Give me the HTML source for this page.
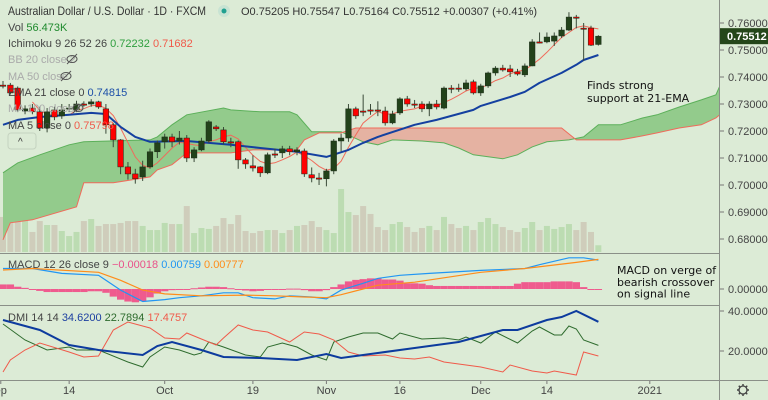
<!DOCTYPE html>
<html><head><meta charset="utf-8"><style>
html,body{margin:0;padding:0;background:#dcebd6;}
svg{display:block;font-family:"Liberation Sans",sans-serif;}
</style></head><body>
<svg id="c" width="768" height="400" viewBox="0 0 768 400">
<defs>
<clipPath id="mainClip"><rect x="0" y="0" width="719" height="252"/></clipPath>
<clipPath id="macdClip"><rect x="0" y="254" width="719" height="51"/></clipPath>
<clipPath id="dmiClip"><rect x="0" y="307" width="719" height="72"/></clipPath>
</defs>
<rect x="0" y="0" width="768" height="400" fill="#dcebd6"/>
<g id="vol" clip-path="url(#mainClip)"></g>
<g id="cloud" clip-path="url(#mainClip)"></g>
<g id="lines" clip-path="url(#mainClip)"></g>
<g id="candles" clip-path="url(#mainClip)"></g>
<g id="macd" clip-path="url(#macdClip)"></g>
<g id="dmi" clip-path="url(#dmiClip)"></g>
<g id="axes"></g>

<line x1="0" y1="253.5" x2="719" y2="253.5" stroke="#8a8f88" stroke-width="1"/>
<line x1="0" y1="305.5" x2="719" y2="305.5" stroke="#8a8f88" stroke-width="1"/>
<line x1="0" y1="380.5" x2="768" y2="380.5" stroke="#8a8f88" stroke-width="1"/>
<line x1="719.5" y1="0" x2="719.5" y2="400" stroke="#8a8f88" stroke-width="1"/>

<g fill="#333">
<text x="8" y="15" font-size="12" textLength="198" lengthAdjust="spacingAndGlyphs">Australian Dollar / U.S. Dollar · 1D · FXCM</text>
<circle cx="224" cy="11" r="6" fill="#c8e3d3"/>
<circle cx="224" cy="11" r="2.5" fill="#20a090"/>
<text x="241" y="15" font-size="11" fill="#333">O0.75205 H0.75547 L0.75164 C0.75512 +0.00307 (+0.41%)</text>
</g>
<g font-size="11">
<text x="8" y="31" fill="#444">Vol <tspan fill="#1f8a2e">56.473K</tspan></text>
<text x="8" y="47" fill="#444">Ichimoku 9 26 52 26 <tspan fill="#2e9e3e">0.72232</tspan> <tspan fill="#f05a4a">0.71682</tspan></text>
<text x="8" y="63" fill="#aaa">BB 20 close 2</text>
<g><ellipse cx="72" cy="59" rx="5" ry="3.5" fill="none" stroke="#555"/><line x1="67" y1="64" x2="77" y2="54" stroke="#555"/></g>
<text x="8" y="80" fill="#aaa">MA 50 close</text>
<g><ellipse cx="66" cy="76" rx="5" ry="3.5" fill="none" stroke="#555"/><line x1="61" y1="81" x2="71" y2="71" stroke="#555"/></g>
<text x="8" y="96" fill="#444">EMA 21 close 0 <tspan fill="#1c4fa8">0.74815</tspan></text>
<text x="8" y="112" fill="#aaa">MA 100 close 0</text>
<g><ellipse cx="78" cy="108" rx="5" ry="3.5" fill="none" stroke="#555"/><line x1="73" y1="113" x2="83" y2="103" stroke="#555"/></g>
<text x="8" y="129" fill="#444">MA 5 close 0 <tspan fill="#f05a4a">0.75798</tspan></text>
<rect x="8" y="133" width="28" height="16" rx="3" fill="#dcebd6" stroke="#c5d3c0"/>
<text x="18" y="145" fill="#333" font-size="10">^</text>
<text x="8" y="268" fill="#444">MACD 12 26 close 9 <tspan fill="#e9518a">−0.00018</tspan> <tspan fill="#2196f3">0.00759</tspan> <tspan fill="#ff8c1a">0.00777</tspan></text>
<text x="8" y="321" fill="#444">DMI 14 14 <tspan fill="#1c3fa0">34.6200</tspan> <tspan fill="#2e6b2e">22.7894</tspan> <tspan fill="#f05a4a">17.4757</tspan></text>
</g>
<g font-size="11" fill="#111" font-family="DejaVu Sans, sans-serif">
<text x="587" y="89"><tspan x="587">Finds strong</tspan><tspan x="587" dy="13">support at 21-EMA</tspan></text>
<text x="617" y="274"><tspan x="617">MACD on verge of</tspan><tspan x="617" dy="12">bearish crossover</tspan><tspan x="617" dy="11.5">on signal line</tspan></text>
</g>
</svg>
<script>
// ---- Data ----
const opens  = [.7370,.7370,.7359,.7274,.7285,.7271,.7211,.7278,.7256,.7282,.7278,.7300,.7300,.7308,.7282,.7223,.7167,.7067,.7041,.7030,.7067,.7123,.7160,.7178,.7163,.7174,.7100,.7130,.7163,.7215,.7204,.7160,.7160,.7093,.7071,.7067,.7045,.7115,.7119,.7134,.7123,.7126,.7038,.7026,.7023,.7052,.7163,.7174,.7282,.7274,.7278,.7278,.7274,.7230,.7267,.7319,.7300,.7300,.7282,.7300,.7285,.7359,.7359,.7356,.7382,.7341,.7367,.7415,.7433,.7430,.7419,.7408,.7441,.7530,.7530,.7533,.7552,.7574,.7622,.7581,.7581,.75205];
const closes = [.7367,.7341,.7278,.7282,.7271,.7211,.7271,.7252,.7278,.7285,.7300,.7298,.7308,.7289,.7223,.7167,.7067,.7041,.7023,.7067,.7123,.7156,.7178,.7160,.7174,.7100,.7130,.7163,.7234,.7208,.7160,.7158,.7093,.7078,.7063,.7045,.7112,.7113,.7134,.7123,.7130,.7041,.7026,.7025,.7052,.7163,.7174,.7282,.7256,.7272,.7276,.7276,.7230,.7263,.7319,.7300,.7298,.7282,.7300,.7289,.7359,.7357,.7357,.7378,.7341,.7367,.7415,.7433,.7426,.7419,.7411,.7441,.7530,.7528,.7548,.7552,.7574,.7622,.7620,.7579,.7518,.75512];
const highs  = [.7385,.7378,.7365,.7295,.7300,.7290,.7285,.7290,.7300,.7300,.7312,.7310,.7318,.7312,.7300,.7230,.7170,.7085,.7060,.7090,.7135,.7165,.7190,.7190,.7200,.7185,.7140,.7175,.7240,.7222,.7215,.7175,.7165,.7100,.7110,.7070,.7120,.7135,.7145,.7145,.7140,.7135,.7065,.7045,.7060,.7170,.7190,.7300,.7290,.7335,.7300,.7310,.7290,.7275,.7325,.7330,.7315,.7310,.7310,.7315,.7365,.7370,.7375,.7390,.7390,.7375,.7420,.7440,.7445,.7445,.7430,.7450,.7540,.7565,.7565,.7565,.7585,.7640,.7630,.7600,.7590,.75547];
const lows   = [.7358,.7335,.7270,.7262,.7262,.7200,.7195,.7240,.7245,.7270,.7270,.7290,.7290,.7282,.7190,.7140,.7040,.7020,.7005,.7015,.7060,.7100,.7135,.7140,.7150,.7085,.7085,.7125,.7155,.7200,.7150,.7140,.7060,.7060,.7050,.7030,.7040,.7100,.7100,.7110,.7110,.7030,.7010,.7000,.6995,.7040,.7125,.7160,.7245,.7255,.7260,.7255,.7220,.7225,.7260,.7290,.7285,.7270,.7255,.7280,.7280,.7340,.7345,.7350,.7335,.7330,.7360,.7405,.7420,.7400,.7405,.7400,.7440,.7525,.7525,.7515,.7545,.7570,.7580,.7460,.7515,.75164];
const volumes = [292,242,292,292,167,258,225,225,175,133,167,258,275,217,233,233,242,258,258,217,183,183,242,233,233,383,158,200,192,217,283,233,308,175,158,175,183,183,158,183,217,225,258,208,183,158,525,333,308,383,317,208,183,233,250,208,167,200,217,183,292,233,200,217,183,250,283,233,208,183,167,200,250,183,217,192,208,233,183,250,167,56];
const spanAIdx = [0,2,5,9,11,20,21,23,25,30,31,35,39,40,42,46,49,51,53,57,60,62,64,68,70,72,74,77,79,81,84,87,89,92,95,97,98];
const spanAVal = [.7045,.7082,.7112,.7149,.7160,.7167,.7178,.7223,.7260,.7285,.7278,.7271,.7271,.7260,.7197,.7197,.7160,.7149,.7167,.7163,.7156,.7137,.7112,.7097,.7112,.7141,.7160,.7167,.7178,.7223,.7223,.7248,.7260,.7289,.7315,.7334,.7396];
const spanBIdx = [0,1,4,10,11,15,20,21,23,25,31,34,40,41,43,46,48,76,78,84,87,89,92,95,97,98];
const spanBVal = [.6797,.6860,.6871,.6919,.7008,.7008,.7030,.7056,.7075,.7119,.7119,.7130,.7130,.7167,.7193,.7193,.7211,.7211,.7167,.7167,.7182,.7193,.7211,.7223,.7248,.7271];
const emaIdx = [0,2,5,9,12,14,16,18,20,25,31,35,40,44,47,49,51,56,59,64,65,69,71,73,76,78,79,81];
const emaVal = [.7223,.7241,.7252,.7260,.7267,.7263,.7215,.7178,.7160,.7163,.7149,.7137,.7123,.7104,.7130,.7156,.7178,.7223,.7241,.7278,.7293,.7326,.7345,.7378,.7415,.7445,.7463,.74815];
const macdIdx = [0,4,8,13,14,16,18,19,22,24,27,30,32,34,37,39,42,44,46,49,51,54,58,65,71,73,77,79,81];
const macdVal = [.0054,.0054,.0041,.0036,.0023,-.0003,-.0023,-.0033,-.0028,-.0023,-.0018,-.0010,-.0010,-.0023,-.0026,-.0018,-.0021,-.0026,-.0003,.0015,.0028,.0036,.0041,.0049,.0054,.0064,.0082,.0082,.0076];
const signalIdx = [0,4,13,16,19,22,27,33,37,41,44,46,49,51,56,65,71,78,81];
const signalVal = [.0050,.0054,.0044,.0023,-.0003,-.0013,-.0018,-.0016,-.0018,-.0021,-.0023,-.0015,.0000,.0010,.0018,.0044,.0054,.0070,.0078];
const histVal = [12,12,6,3,-2,-5,-8,-8,-8,-8,-8,-8,-6,-6,-10,-20,-28,-33,-35,-32,-22,-12,-6,-3,-1,0,2,4,6,6,5,2,-1,-4,-6,-5,-2,-1,0,1,1,-3,-6,-6,-3,5,12,20,24,26,28,28,25,25,22,15,15,14,10,8,8,8,8,8,8,8,8,8,8,8,14,18,18,18,18,20,20,20,18,5,-1,-2];
const adxIdx = [0,5,9,13,19,21,23,27,30,35,40,44,46,51,56,62,64,68,70,74,76,78,81];
const adxVal = [35.5,30.5,23,20.5,18,22.5,24.5,20.5,17,16.5,15.5,18.5,16.5,19,21.5,24.5,26.5,30.5,30.5,35.5,37,40,34.6];
const pdiIdx = [0,3,6,9,10,13,17,19,20,22,24,26,27,28,30,33,35,36,38,40,42,44,45,47,49,51,53,54,57,60,62,63,65,67,70,72,73,75,76,77,78,79,81];
const pdiVal = [33.5,25.5,20.5,22,20.5,20.5,14.5,12,17,22,20.5,18,19,24.5,22,18,17,22,24,22,18,15.5,24.5,27,29,29,26,29,26,26.5,25.5,27,24,29.5,24,30,32,28,28,32.5,31,25.5,22.8];
const mdiIdx = [0,1,3,5,9,11,13,15,17,20,22,24,25,27,29,30,32,34,36,39,41,43,45,47,49,52,54,56,58,60,65,68,69,72,74,75,78,79,81];
const mdiVal = [9.5,15.5,20.5,24,19.5,17,17.5,30.5,34.5,31.5,26.5,26,29,26,23,26.5,33,30.5,29.5,24.5,29.5,28.5,25.5,19.5,17.5,18,16.5,16,17,14.5,12,9.5,13,10,9,10,8,19.5,17.5];
const priceTicks = ["0.76000","0.75000","0.74000","0.73000","0.72000","0.71000","0.70000","0.69000","0.68000"];
const priceTickVals = [.76,.75,.74,.73,.72,.71,.70,.69,.68];
const timeLabels = ["ep","14","Oct","19","Nov","16","Dec","14","2021"];
const timeLabelIdx = [-0.3,9,22,34,44,54,65,74,88];
const dmiTicks = ["40.0000","20.0000"];
const dmiTickVals = [40,20];

// ---- Scales ----
const X = i => 3 + 7.35 * i;
const Y = p => 23 + (0.76 - p) * 2700;
const MY = v => 289 - v * 3800;
const DY = v => 391 - 2 * v;
const VH = v => v * 0.12;
const NS = "http://www.w3.org/2000/svg";
function el(tag, attrs, parent) {
  const e = document.createElementNS(NS, tag);
  for (const k in attrs) e.setAttribute(k, attrs[k]);
  parent.appendChild(e);
  return e;
}
function pathFrom(idx, vals, sx, sy) {
  return idx.map((d, k) => (k ? "L" : "M") + sx(d).toFixed(1) + " " + sy(vals[k]).toFixed(1)).join(" ");
}
const g = id => document.getElementById(id);

// volume
volumes.forEach((v, i) => {
  const up = closes[i] >= opens[i];
  const r = el("rect", {x: X(i) - 3, y: 252 - VH(v), width: 6, height: VH(v), fill: up ? "#bcdcb2" : "#cfcdbb"}, g("vol"));
  
  
});

// cloud
const aPath = pathFrom(spanAIdx, spanAVal, X, Y);
const bPath = pathFrom(spanBIdx, spanBVal, X, Y);
const defs = document.querySelector("defs");
const xa0 = X(spanAIdx[0]), xa1 = X(spanAIdx[spanAIdx.length-1]);
const xb0 = X(spanBIdx[0]), xb1 = X(spanBIdx[spanBIdx.length-1]);
const belowA = el("clipPath", {id: "belowA"}, defs);
el("path", {d: aPath + ` L${xa1} 400 L${xa0} 400 Z`}, belowA);
const belowB = el("clipPath", {id: "belowB"}, defs);
el("path", {d: bPath + ` L${xb1} 400 L${xb0} 400 Z`}, belowB);
const gr = el("g", {"clip-path": "url(#belowA)"}, g("cloud"));
const gf = el("path", {d: bPath + ` L${xb1} -10 L${xb0} -10 Z`, fill: "#93cb8c"}, gr);


const rd = el("g", {"clip-path": "url(#belowB)"}, g("cloud"));
const rf = el("path", {d: aPath + ` L${xa1} -10 L${xa0} -10 Z`, fill: "#e5b2a2"}, rd);


const la = el("path", {d: aPath, fill: "none", stroke: "#5cb05a", "stroke-width": 1}, g("cloud"));


const lb = el("path", {d: bPath, fill: "none", stroke: "#f06b5b", "stroke-width": 1}, g("cloud"));



// MA5
const ma5Idx = [], ma5Val = [];
for (let i = 4; i < closes.length; i++) {
  let s = 0; for (let k = i - 4; k <= i; k++) s += closes[k];
  ma5Idx.push(i); ma5Val.push(s / 5);
}
const m5 = el("path", {d: pathFrom(ma5Idx, ma5Val, X, Y), fill: "none", stroke: "#f06b5b", "stroke-width": 1}, g("lines"));


const em = el("path", {d: pathFrom(emaIdx, emaVal, X, Y), fill: "none", stroke: "#1440a0", "stroke-width": 2, "stroke-linejoin": "round"}, g("lines"));



// candles
opens.forEach((o, i) => {
  const c = closes[i], up = c >= o;
  const col = up ? "#22421a" : "#ff0000";
  const w = el("line", {x1: X(i), x2: X(i), y1: Y(highs[i]), y2: Y(lows[i]), stroke: "#3a4a38", "stroke-width": 1}, g("candles"));
  
  
  const top = Y(Math.max(o, c)), h = Math.max(1.2, Math.abs(Y(o) - Y(c)));
  const b = el("rect", {x: X(i) - 2.8, y: top, width: 5.6, height: h, fill: col, stroke: "#1a2a16", "stroke-width": 0.5}, g("candles"));
  
  
});

// MACD
histVal.forEach((v, i) => {
  const val = v / 10000;
  const y0 = MY(0), y1 = MY(val);
  const r = el("rect", {x: X(i) - 3.6, y: Math.min(y0, y1), width: 7.3, height: Math.max(1, Math.abs(y1 - y0)), fill: "#ef5b8e"}, g("macd"));
  
  
});
const ml = el("path", {d: pathFrom(macdIdx, macdVal, X, MY), fill: "none", stroke: "#2196f3", "stroke-width": 1.2}, g("macd"));


const sl = el("path", {d: pathFrom(signalIdx, signalVal, X, MY), fill: "none", stroke: "#ff8c1a", "stroke-width": 1.2}, g("macd"));



// DMI
const pl = el("path", {d: pathFrom(pdiIdx, pdiVal, X, DY), fill: "none", stroke: "#2e6b2e", "stroke-width": 1}, g("dmi"));


const nl = el("path", {d: pathFrom(mdiIdx, mdiVal, X, DY), fill: "none", stroke: "#f05a4a", "stroke-width": 1}, g("dmi"));


const al = el("path", {d: pathFrom(adxIdx, adxVal, X, DY), fill: "none", stroke: "#0d3b9e", "stroke-width": 2}, g("dmi"));



// axes
const ax = g("axes");
priceTicks.forEach((t, k) => {
  const y = Y(priceTickVals[k]);
  el("line", {x1: 720, x2: 724, y1: y, y2: y, stroke: "#777"}, ax);
  const tx = el("text", {x: 728, y: y + 4, "font-size": 11, fill: "#444"}, ax);
  tx.textContent = t;
  
  
});
const last = closes[closes.length - 1];
const lb2 = el("rect", {x: 720, y: Y(last) - 8, width: 48, height: 16, fill: "#24461a"}, ax);


const lt = el("text", {x: 727, y: Y(last) + 4, "font-size": 11, "font-weight": "bold", fill: "#fff"}, ax);
lt.textContent = last.toFixed(5);


el("line", {x1: 720, x2: 724, y1: MY(0), y2: MY(0), stroke: "#777"}, ax);
const mz = el("text", {x: 728, y: MY(0) + 4, "font-size": 11, fill: "#444"}, ax);
mz.textContent = "0.00000";


dmiTicks.forEach((t, k) => {
  const y = DY(dmiTickVals[k]);
  el("line", {x1: 720, x2: 724, y1: y, y2: y, stroke: "#777"}, ax);
  const tx = el("text", {x: 728, y: y + 4, "font-size": 11, fill: "#444"}, ax);
  tx.textContent = t;
  
  
});
timeLabels.forEach((t, k) => {
  const x = X(timeLabelIdx[k]);
  el("line", {x1: x, x2: x, y1: 381, y2: 384, stroke: "#777"}, ax);
  const tx = el("text", {x: x, y: 394, "font-size": 11, fill: "#444", "text-anchor": "middle"}, ax);
  tx.textContent = t;
  
  
});
const gear = el("g", {}, ax);


el("circle", {cx: 743, cy: 390, r: 4, fill: "none", stroke: "#444", "stroke-width": 1.3}, gear);
for (let a = 0; a < 8; a++) {
  const r = a * Math.PI / 4;
  el("line", {x1: 743 + 4 * Math.cos(r), y1: 390 + 4 * Math.sin(r), x2: 743 + 6 * Math.cos(r), y2: 390 + 6 * Math.sin(r), stroke: "#444", "stroke-width": 1.5}, gear);
}
</script>
</body></html>
